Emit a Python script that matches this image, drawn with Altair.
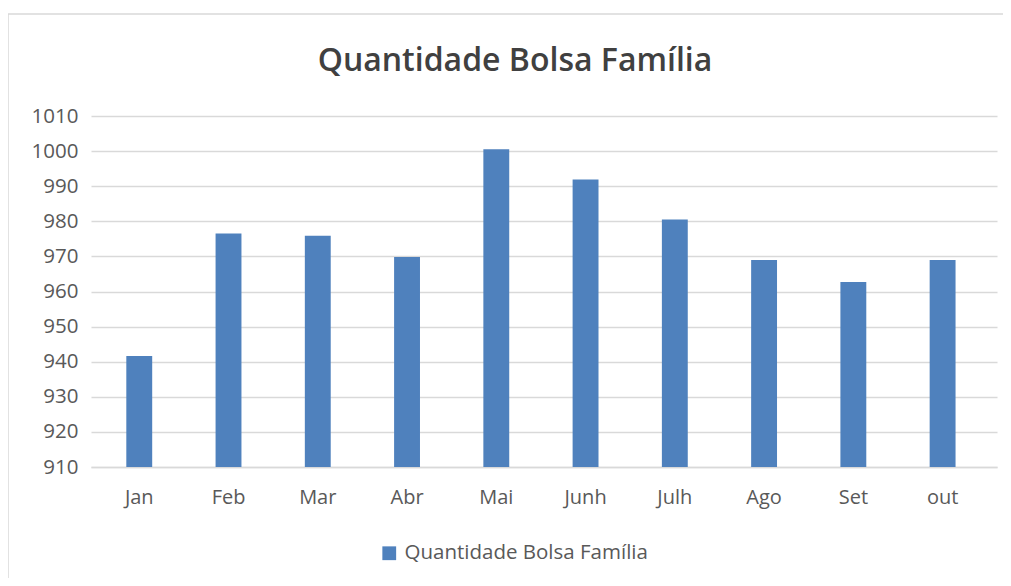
import altair as alt
import pandas as pd

meses = ["Jan", "Feb", "Mar", "Abr", "Mai", "Junh", "Julh", "Ago", "Set", "out"]
quantidade = [941.6, 976.5, 975.9, 969.8, 1000.5, 991.9, 980.5, 969.0, 962.7, 969.0]
serie = "Quantidade Bolsa Família"
y_ticks = list(range(910, 1011, 10))

df = pd.DataFrame({"mes": meses, "valor": quantidade, "serie": [serie] * len(meses)})

W, H = 906, 351
label_color = "#595959"
grid_color = "#d9d9d9"

border = alt.Chart(alt.Data(values=[{"a": 1}])).mark_rect(
    fill="transparent", stroke="#d9d9d9", strokeWidth=1.5
).encode(
    x=alt.value(-83), x2=alt.value(W + 40), y=alt.value(-102), y2=alt.value(H + 200)
)

bars = alt.Chart(df).mark_bar().encode(
    x=alt.X(
        "mes:N",
        sort=meses,
        title=None,
        scale=alt.Scale(paddingInner=0.71, paddingOuter=0.43, align=0.46),
        axis=alt.Axis(
            labelAngle=0, ticks=False, domainColor=grid_color, domainWidth=1.5,
            labelFont="Open Sans", labelFontSize=20, labelColor=label_color, labelPadding=20,
        ),
    ),
    y=alt.Y(
        "valor:Q",
        title=None,
        scale=alt.Scale(domain=[910, 1010], nice=False, zero=False),
        axis=alt.Axis(
            values=y_ticks, format="d", ticks=False, domain=False, gridColor=grid_color, gridWidth=1.5,
            labelFont="Open Sans", labelFontSize=20.5, labelColor=label_color, labelPadding=13,
        ),
    ),
    y2=alt.datum(910),
    color=alt.Color(
        "serie:N",
        scale=alt.Scale(range=["#4F81BD"]),
        legend=alt.Legend(
            title=None, orient="none", legendX=288, legendY=427, symbolType="square",
            symbolSize=190, symbolStrokeWidth=0, labelFont="Open Sans", labelFontSize=20.5,
            labelColor=label_color, labelOffset=5, padding=0, labelLimit=400,
        ),
    ),
)

chart = alt.layer(border, bars).properties(
    width=W,
    height=H,
    background="white",
    autosize=alt.AutoSizeParams(type="none"),
    padding={"left": 83, "top": 108, "right": 6, "bottom": 111},
    title=alt.Title(
        "Quantidade Bolsa Família", font="Open Sans", fontSize=32, fontWeight=600,
        color="#404040", anchor="middle", dx=-29, offset=-65,
    ),
).configure_view(stroke="transparent", strokeWidth=0)

chart.save("out.html", embed_options={"renderer": "svg", "actions": False})
